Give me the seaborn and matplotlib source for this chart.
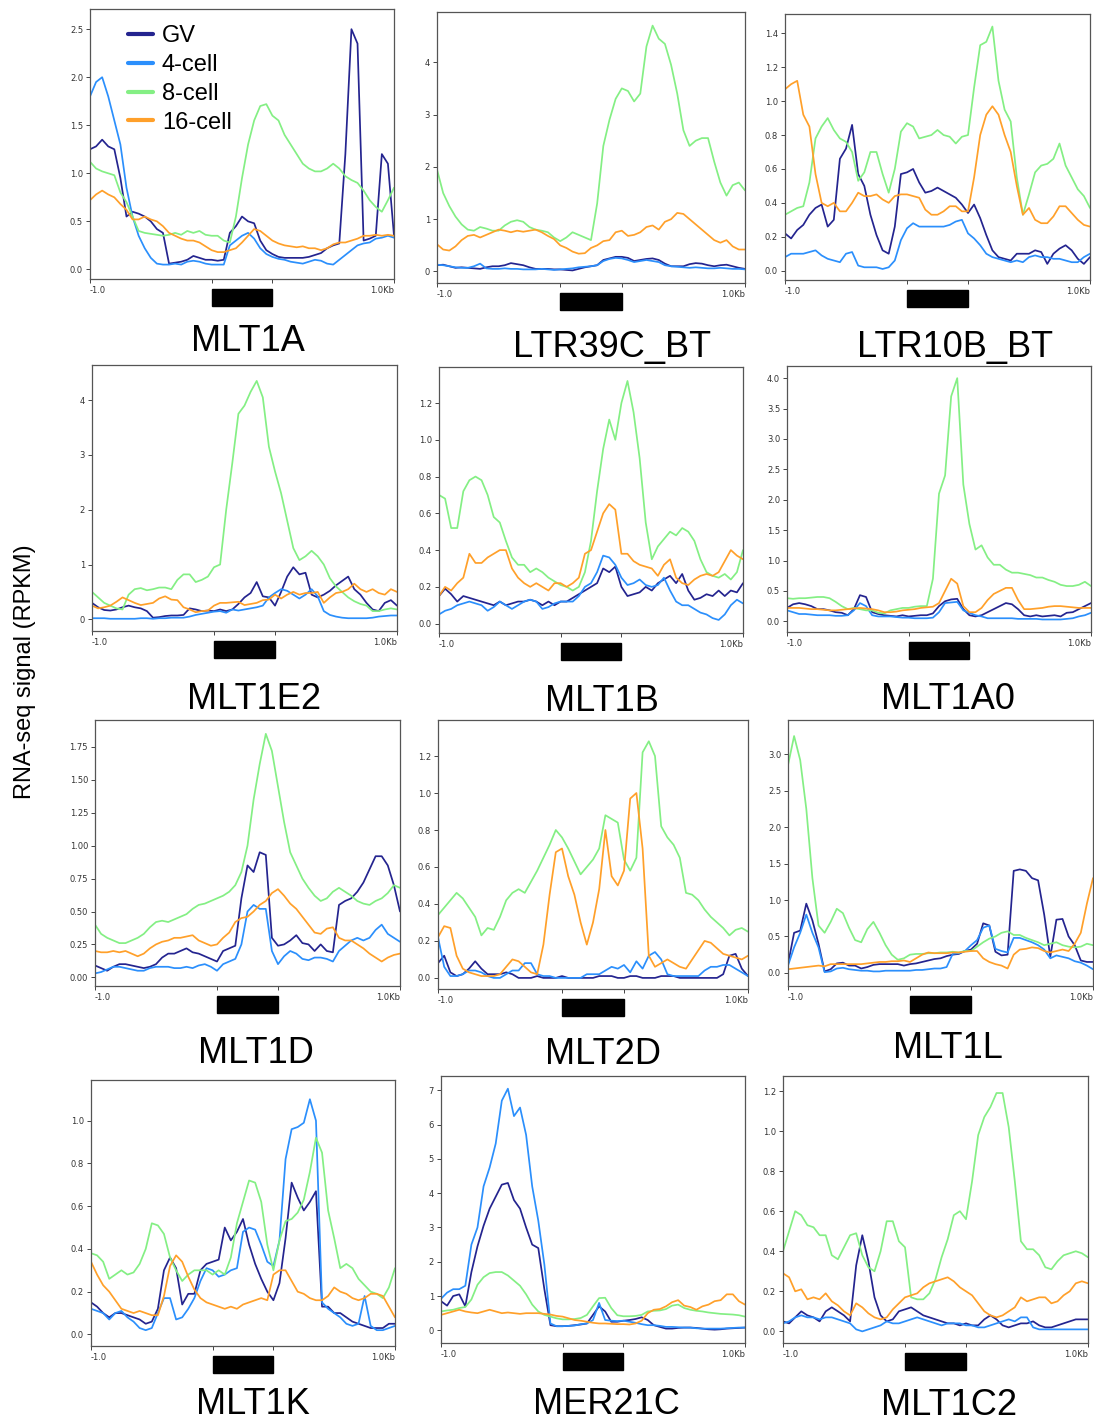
import numpy as np
import pandas as pd
import matplotlib
matplotlib.use("Agg")
import matplotlib.pyplot as plt
import matplotlib.transforms as mtransforms
from matplotlib.patches import Rectangle
from matplotlib.ticker import MultipleLocator
import seaborn as sns

# ---------------- data ----------------
STAGES = ["GV", "4-cell", "8-cell", "16-cell"]
REPEATS = ["MLT1A", "LTR39C_BT", "LTR10B_BT", "MLT1E2", "MLT1B", "MLT1A0",
           "MLT1D", "MLT2D", "MLT1L", "MLT1K", "MER21C", "MLT1C2"]
X_TICKS = [0, 40, 60, 100]          # -1 kb, region start, region end, +1 kb (scaled bins)
X_TICK_LABELS = ["-1.0", "", "", "1.0Kb"]
Y_LABEL = "RNA-seq signal (RPKM)"

MLT1A_GV = [1.25,1.28,1.35,1.28,1.25,0.95,0.55,0.60,0.58,0.55, 0.50,0.42,0.38,0.06,0.07,0.08,0.10,0.14,0.12,0.10,
            0.10,0.09,0.10,0.38,0.45,0.55,0.50,0.48,0.30,0.20, 0.16,0.13,0.12,0.12,0.12,0.12,0.13,0.15,0.17,0.22,
            0.25,0.27,1.20,2.50,2.35,0.30,0.32,0.35,1.20,1.10, 0.35]
MLT1A_4C = [1.80,1.95,2.00,1.80,1.55,1.30,0.85,0.55,0.35,0.22, 0.12,0.06,0.05,0.05,0.06,0.05,0.08,0.09,0.08,0.06,
            0.05,0.05,0.05,0.25,0.30,0.35,0.38,0.32,0.22,0.16, 0.13,0.11,0.10,0.08,0.07,0.06,0.08,0.10,0.09,0.06,
            0.05,0.10,0.15,0.20,0.25,0.27,0.28,0.32,0.33,0.35, 0.33]
MLT1A_8C = [1.12,1.05,1.02,1.00,0.98,0.80,0.70,0.55,0.40,0.38, 0.37,0.36,0.35,0.36,0.38,0.36,0.40,0.38,0.40,0.36,
            0.35,0.35,0.30,0.28,0.55,0.95,1.30,1.55,1.70,1.72, 1.60,1.55,1.40,1.30,1.20,1.10,1.05,1.02,1.02,1.05,
            1.10,1.05,0.97,0.93,0.90,0.82,0.72,0.65,0.60,0.72, 0.85]
MLT1A_16C = [0.72,0.78,0.82,0.78,0.75,0.68,0.62,0.52,0.52,0.55, 0.52,0.50,0.45,0.38,0.35,0.32,0.30,0.30,0.28,0.24,
             0.20,0.18,0.18,0.20,0.22,0.28,0.35,0.42,0.40,0.35, 0.30,0.27,0.25,0.24,0.23,0.24,0.22,0.22,0.20,0.22,
             0.26,0.28,0.28,0.30,0.32,0.35,0.35,0.36,0.35,0.36, 0.35]

LTR39C_GV = [0.12,0.13,0.10,0.07,0.08,0.07,0.06,0.05,0.08,0.10, 0.10,0.12,0.16,0.14,0.12,0.08,0.05,0.05,0.05,0.04,
             0.04,0.03,0.02,0.05,0.08,0.10,0.12,0.22,0.25,0.28, 0.28,0.26,0.20,0.22,0.24,0.25,0.22,0.15,0.10,0.10,
             0.10,0.14,0.16,0.15,0.12,0.10,0.12,0.13,0.10,0.07, 0.05]
LTR39C_4C = [0.13,0.12,0.10,0.08,0.07,0.07,0.10,0.15,0.06,0.05, 0.05,0.06,0.05,0.05,0.04,0.04,0.04,0.05,0.04,0.03,
             0.04,0.05,0.06,0.08,0.09,0.10,0.12,0.20,0.24,0.26, 0.25,0.22,0.18,0.20,0.22,0.20,0.18,0.12,0.10,0.09,
             0.08,0.07,0.08,0.07,0.06,0.06,0.07,0.06,0.05,0.05, 0.04]
LTR39C_8C = [1.95,1.50,1.25,1.05,0.90,0.80,0.78,0.85,0.82,0.78, 0.78,0.88,0.95,0.98,0.95,0.85,0.80,0.78,0.75,0.65,
             0.58,0.65,0.75,0.70,0.65,0.60,1.30,2.40,2.90,3.30, 3.50,3.45,3.25,3.40,4.30,4.70,4.45,4.35,3.95,3.40,
             2.70,2.40,2.50,2.55,2.55,2.10,1.70,1.45,1.65,1.70, 1.55]
LTR39C_16C = [0.52,0.42,0.40,0.48,0.60,0.68,0.70,0.65,0.70,0.75, 0.80,0.78,0.75,0.78,0.76,0.78,0.80,0.75,0.68,0.62,
              0.50,0.45,0.38,0.34,0.35,0.45,0.50,0.58,0.60,0.75, 0.78,0.68,0.70,0.75,0.85,0.88,0.80,0.95,1.00,1.12,
              1.10,1.00,0.90,0.80,0.70,0.60,0.55,0.60,0.48,0.42, 0.42]

LTR10B_GV = [0.22,0.19,0.24,0.27,0.33,0.37,0.39,0.26,0.30,0.66, 0.72,0.86,0.57,0.50,0.33,0.21,0.12,0.10,0.26,0.57,
             0.58,0.60,0.52,0.46,0.47,0.49,0.47,0.45,0.43,0.39, 0.34,0.39,0.31,0.21,0.12,0.08,0.07,0.06,0.10,0.10,
             0.10,0.12,0.11,0.04,0.10,0.13,0.15,0.12,0.07,0.04, 0.08]
LTR10B_4C = [0.08,0.10,0.10,0.10,0.11,0.12,0.09,0.07,0.06,0.05, 0.10,0.11,0.03,0.02,0.02,0.02,0.01,0.02,0.06,0.18,
             0.25,0.28,0.26,0.26,0.26,0.26,0.26,0.27,0.29,0.30, 0.22,0.19,0.15,0.10,0.08,0.07,0.06,0.05,0.06,0.05,
             0.08,0.09,0.08,0.08,0.07,0.07,0.06,0.05,0.05,0.08, 0.10]
LTR10B_8C = [0.33,0.35,0.37,0.38,0.52,0.78,0.85,0.90,0.83,0.78, 0.76,0.70,0.53,0.58,0.70,0.70,0.57,0.46,0.60,0.82,
             0.87,0.85,0.78,0.79,0.80,0.83,0.80,0.79,0.75,0.79, 0.80,1.08,1.33,1.35,1.44,1.12,0.95,0.88,0.55,0.33,
             0.45,0.58,0.62,0.63,0.66,0.75,0.62,0.55,0.48,0.44, 0.37]
LTR10B_16C = [1.07,1.10,1.12,0.92,0.85,0.57,0.40,0.38,0.40,0.35, 0.35,0.40,0.46,0.44,0.44,0.45,0.42,0.40,0.44,0.45,
              0.45,0.44,0.43,0.36,0.33,0.33,0.35,0.38,0.38,0.35, 0.35,0.55,0.80,0.92,0.97,0.92,0.80,0.70,0.50,0.33,
              0.37,0.30,0.28,0.28,0.32,0.38,0.38,0.34,0.30,0.27, 0.26]

MLT1E2_GV = [0.30,0.22,0.17,0.16,0.18,0.22,0.25,0.22,0.20,0.15, 0.03,0.04,0.06,0.07,0.07,0.08,0.20,0.18,0.15,0.16,
             0.15,0.18,0.15,0.18,0.28,0.40,0.48,0.68,0.42,0.40, 0.25,0.50,0.78,0.95,0.82,0.85,0.45,0.40,0.45,0.52,
             0.62,0.70,0.78,0.55,0.45,0.30,0.18,0.15,0.30,0.35, 0.25]
MLT1E2_4C = [0.02,0.02,0.02,0.01,0.01,0.01,0.01,0.01,0.02,0.02, 0.01,0.02,0.02,0.03,0.03,0.03,0.05,0.08,0.10,0.12,
             0.14,0.15,0.12,0.18,0.16,0.18,0.20,0.22,0.25,0.40, 0.48,0.55,0.52,0.45,0.38,0.45,0.55,0.42,0.15,0.08,
             0.05,0.03,0.02,0.02,0.02,0.02,0.03,0.05,0.06,0.07, 0.07]
MLT1E2_8C = [0.50,0.40,0.30,0.25,0.20,0.18,0.45,0.55,0.57,0.53, 0.55,0.58,0.58,0.55,0.72,0.82,0.82,0.68,0.72,0.78,
             0.95,1.00,2.00,2.85,3.75,3.90,4.15,4.35,4.05,3.15, 2.70,2.30,1.80,1.30,1.08,1.15,1.25,1.15,1.00,0.75,
             0.60,0.50,0.40,0.33,0.28,0.25,0.15,0.15,0.18,0.20, 0.18]
MLT1E2_16C = [0.25,0.20,0.22,0.25,0.32,0.40,0.35,0.30,0.26,0.28, 0.30,0.38,0.42,0.36,0.35,0.22,0.18,0.13,0.15,0.16,
              0.25,0.30,0.30,0.31,0.32,0.26,0.28,0.30,0.35,0.36, 0.45,0.38,0.45,0.50,0.45,0.48,0.48,0.50,0.30,0.40,
              0.48,0.50,0.55,0.65,0.55,0.50,0.55,0.48,0.45,0.55, 0.50]

MLT1B_GV = [0.15,0.19,0.16,0.12,0.15,0.14,0.13,0.12,0.11,0.10, 0.12,0.10,0.11,0.12,0.12,0.13,0.12,0.10,0.12,0.10,
            0.12,0.12,0.14,0.16,0.18,0.20,0.22,0.30,0.28,0.31, 0.20,0.15,0.16,0.17,0.20,0.18,0.22,0.24,0.26,0.22,
            0.27,0.18,0.13,0.14,0.16,0.15,0.18,0.15,0.18,0.17, 0.22]
MLT1B_4C = [0.05,0.07,0.08,0.10,0.11,0.12,0.11,0.10,0.07,0.09, 0.12,0.10,0.08,0.10,0.12,0.13,0.12,0.08,0.09,0.11,
            0.12,0.12,0.12,0.15,0.20,0.22,0.28,0.37,0.36,0.32, 0.25,0.21,0.22,0.24,0.21,0.20,0.21,0.25,0.18,0.12,
            0.10,0.10,0.08,0.06,0.05,0.03,0.02,0.05,0.10,0.13, 0.11]
MLT1B_8C = [0.70,0.68,0.52,0.52,0.72,0.78,0.80,0.78,0.70,0.58, 0.55,0.45,0.36,0.32,0.32,0.28,0.30,0.28,0.25,0.23,
            0.21,0.20,0.18,0.20,0.28,0.45,0.72,0.95,1.11,1.00, 1.20,1.32,1.15,0.90,0.55,0.35,0.42,0.46,0.50,0.48,
            0.52,0.50,0.45,0.35,0.28,0.26,0.25,0.27,0.24,0.28, 0.40]
MLT1B_16C = [0.15,0.20,0.18,0.22,0.25,0.38,0.33,0.33,0.36,0.38, 0.40,0.40,0.30,0.25,0.22,0.20,0.22,0.20,0.18,0.22,
             0.22,0.20,0.22,0.25,0.38,0.40,0.50,0.60,0.65,0.62, 0.38,0.38,0.34,0.32,0.31,0.30,0.26,0.32,0.35,0.25,
             0.22,0.21,0.24,0.26,0.27,0.26,0.28,0.34,0.40,0.37, 0.35]

MLT1A0_GV = [0.22,0.28,0.30,0.28,0.25,0.20,0.20,0.18,0.15,0.14, 0.10,0.20,0.43,0.40,0.15,0.12,0.10,0.09,0.08,0.10,
             0.08,0.09,0.10,0.10,0.13,0.25,0.33,0.36,0.37,0.20, 0.10,0.08,0.10,0.15,0.20,0.25,0.30,0.28,0.20,0.10,
             0.08,0.10,0.08,0.09,0.10,0.08,0.14,0.15,0.20,0.25, 0.30]
MLT1A0_4C = [0.18,0.15,0.12,0.12,0.11,0.10,0.10,0.10,0.09,0.09, 0.10,0.18,0.30,0.25,0.10,0.08,0.08,0.08,0.07,0.06,
             0.06,0.05,0.05,0.05,0.06,0.15,0.30,0.31,0.32,0.18, 0.14,0.10,0.08,0.05,0.05,0.05,0.05,0.05,0.04,0.04,
             0.04,0.04,0.03,0.03,0.03,0.03,0.04,0.05,0.08,0.10, 0.14]
MLT1A0_8C = [0.38,0.37,0.38,0.38,0.39,0.40,0.40,0.38,0.32,0.25, 0.20,0.22,0.20,0.18,0.18,0.14,0.13,0.18,0.20,0.22,
             0.22,0.24,0.25,0.25,0.70,2.10,2.40,3.70,4.00,2.25, 1.60,1.18,1.25,1.05,0.93,0.93,0.85,0.80,0.80,0.78,
             0.76,0.72,0.72,0.68,0.65,0.60,0.58,0.58,0.60,0.65, 0.58]
MLT1A0_16C = [0.22,0.22,0.22,0.21,0.20,0.20,0.19,0.18,0.18,0.19, 0.20,0.21,0.22,0.21,0.20,0.18,0.15,0.15,0.16,0.18,
              0.19,0.20,0.22,0.23,0.24,0.30,0.50,0.70,0.62,0.25, 0.15,0.15,0.22,0.35,0.45,0.50,0.55,0.55,0.35,0.20,
              0.20,0.21,0.22,0.24,0.25,0.25,0.24,0.23,0.22,0.22, 0.22]

MLT1D_GV = [0.09,0.07,0.05,0.08,0.10,0.10,0.09,0.08,0.07,0.08, 0.10,0.15,0.18,0.18,0.20,0.22,0.19,0.18,0.16,0.14,
            0.12,0.20,0.22,0.24,0.60,0.85,0.80,0.95,0.93,0.30, 0.24,0.25,0.28,0.32,0.26,0.25,0.20,0.25,0.20,0.19,
            0.55,0.58,0.60,0.65,0.72,0.82,0.92,0.92,0.85,0.70, 0.50]
MLT1D_4C = [0.03,0.04,0.06,0.08,0.08,0.07,0.06,0.05,0.05,0.07, 0.08,0.08,0.08,0.07,0.07,0.08,0.07,0.09,0.10,0.08,
            0.05,0.10,0.12,0.14,0.25,0.50,0.55,0.52,0.52,0.20, 0.10,0.16,0.20,0.18,0.14,0.13,0.15,0.15,0.14,0.12,
            0.20,0.24,0.28,0.30,0.28,0.30,0.36,0.40,0.33,0.30, 0.27]
MLT1D_8C = [0.40,0.33,0.30,0.28,0.26,0.26,0.28,0.30,0.33,0.38, 0.42,0.43,0.42,0.44,0.46,0.48,0.52,0.55,0.56,0.58,
            0.60,0.62,0.65,0.70,0.80,1.00,1.35,1.62,1.85,1.72, 1.45,1.18,0.95,0.85,0.75,0.68,0.62,0.58,0.60,0.65,
            0.68,0.65,0.62,0.58,0.56,0.55,0.58,0.60,0.64,0.70, 0.68]
MLT1D_16C = [0.20,0.19,0.19,0.20,0.19,0.20,0.18,0.16,0.18,0.22, 0.25,0.27,0.28,0.30,0.30,0.31,0.32,0.28,0.26,0.24,
             0.25,0.30,0.34,0.42,0.45,0.46,0.50,0.55,0.58,0.64, 0.67,0.62,0.56,0.52,0.46,0.40,0.34,0.33,0.37,0.38,
             0.30,0.28,0.28,0.25,0.22,0.18,0.15,0.12,0.15,0.17, 0.18]

MLT2D_GV = [0.08,0.12,0.03,0.01,0.02,0.05,0.09,0.05,0.02,0.02, 0.02,0.03,0.02,0.00,0.00,0.00,0.01,0.00,0.00,0.00,
            0.01,0.00,0.00,0.00,0.00,0.00,0.01,0.01,0.01,0.00, 0.00,0.01,0.01,0.00,0.00,0.00,0.01,0.01,0.01,0.00,
            0.00,0.00,0.00,0.00,0.00,0.00,0.02,0.12,0.13,0.05, 0.01]
MLT2D_4C = [0.22,0.06,0.01,0.01,0.02,0.04,0.04,0.03,0.01,0.00, 0.00,0.02,0.04,0.04,0.08,0.08,0.02,0.01,0.01,0.00,
            0.00,0.00,0.00,0.00,0.02,0.02,0.02,0.04,0.06,0.05, 0.07,0.03,0.09,0.05,0.12,0.14,0.10,0.02,0.01,0.01,
            0.01,0.01,0.01,0.04,0.06,0.06,0.07,0.07,0.05,0.03, 0.01]
MLT2D_8C = [0.34,0.38,0.42,0.46,0.43,0.38,0.33,0.23,0.27,0.26, 0.33,0.42,0.46,0.48,0.46,0.52,0.58,0.65,0.72,0.80,
            0.76,0.70,0.63,0.56,0.60,0.64,0.70,0.88,0.86,0.84, 0.64,0.58,0.65,1.22,1.28,1.20,0.82,0.76,0.72,0.65,
            0.46,0.45,0.42,0.37,0.33,0.30,0.27,0.23,0.26,0.27, 0.25]
MLT2D_16C = [0.22,0.28,0.27,0.12,0.05,0.03,0.02,0.01,0.01,0.01, 0.02,0.06,0.10,0.09,0.06,0.03,0.02,0.18,0.45,0.68,
             0.70,0.55,0.45,0.30,0.18,0.30,0.48,0.80,0.55,0.50, 0.58,0.97,1.00,0.70,0.12,0.06,0.08,0.10,0.08,0.06,
             0.05,0.10,0.15,0.20,0.19,0.16,0.13,0.12,0.11,0.10, 0.12]

MLT1L_GV = [0.12,0.55,0.58,0.95,0.72,0.40,0.02,0.05,0.13,0.14, 0.10,0.10,0.06,0.08,0.11,0.12,0.12,0.12,0.12,0.10,
            0.12,0.13,0.15,0.17,0.19,0.20,0.23,0.25,0.26,0.30, 0.32,0.40,0.68,0.65,0.29,0.24,0.25,1.40,1.42,1.40,
            1.30,1.27,0.80,0.22,0.73,0.74,0.50,0.38,0.17,0.15, 0.15]
MLT1L_4C = [0.10,0.35,0.55,0.80,0.55,0.35,0.01,0.02,0.06,0.07, 0.05,0.04,0.03,0.03,0.02,0.02,0.03,0.03,0.03,0.03,
            0.03,0.04,0.04,0.05,0.06,0.06,0.08,0.26,0.27,0.30, 0.38,0.45,0.62,0.65,0.33,0.30,0.28,0.48,0.48,0.45,
            0.42,0.38,0.32,0.20,0.24,0.22,0.20,0.16,0.14,0.10, 0.05]
MLT1L_8C = [2.85,3.25,2.92,2.25,1.30,0.65,0.55,0.70,0.88,0.82, 0.62,0.45,0.42,0.60,0.70,0.55,0.38,0.25,0.18,0.20,
            0.25,0.26,0.26,0.27,0.27,0.28,0.28,0.29,0.28,0.30, 0.30,0.36,0.42,0.47,0.50,0.55,0.57,0.52,0.52,0.48,
            0.45,0.42,0.38,0.40,0.42,0.38,0.36,0.35,0.36,0.40, 0.38]
MLT1L_16C = [0.05,0.06,0.07,0.08,0.09,0.10,0.09,0.12,0.12,0.12, 0.12,0.12,0.12,0.13,0.14,0.15,0.15,0.16,0.16,0.17,
             0.15,0.20,0.25,0.28,0.27,0.27,0.27,0.28,0.28,0.29, 0.30,0.30,0.20,0.15,0.12,0.10,0.06,0.25,0.32,0.33,
             0.35,0.34,0.30,0.28,0.30,0.32,0.30,0.40,0.55,0.95, 1.30]

MLT1K_GV = [0.15,0.13,0.10,0.08,0.10,0.10,0.09,0.08,0.07,0.05, 0.06,0.12,0.30,0.36,0.31,0.14,0.19,0.19,0.30,0.33,
            0.34,0.35,0.50,0.44,0.48,0.54,0.42,0.33,0.26,0.20, 0.16,0.24,0.45,0.71,0.64,0.58,0.62,0.67,0.13,0.13,
            0.10,0.10,0.08,0.06,0.05,0.04,0.03,0.03,0.03,0.05, 0.05]
MLT1K_4C = [0.12,0.11,0.10,0.07,0.10,0.11,0.08,0.06,0.03,0.02, 0.03,0.10,0.17,0.17,0.07,0.08,0.12,0.17,0.25,0.31,
            0.30,0.27,0.28,0.30,0.31,0.48,0.50,0.49,0.42,0.34, 0.32,0.44,0.82,0.96,0.97,0.99,1.10,1.00,0.15,0.12,
            0.10,0.08,0.05,0.04,0.05,0.18,0.04,0.02,0.02,0.03, 0.04]
MLT1K_8C = [0.38,0.37,0.34,0.26,0.28,0.30,0.28,0.29,0.33,0.40, 0.52,0.51,0.47,0.36,0.30,0.25,0.28,0.30,0.30,0.30,
            0.28,0.30,0.28,0.36,0.52,0.62,0.72,0.71,0.62,0.42, 0.30,0.44,0.53,0.54,0.57,0.63,0.76,0.92,0.85,0.58,
            0.45,0.31,0.33,0.31,0.26,0.23,0.20,0.19,0.17,0.22, 0.31]
MLT1K_16C = [0.34,0.28,0.23,0.20,0.16,0.12,0.11,0.10,0.11,0.10, 0.09,0.09,0.18,0.32,0.37,0.34,0.27,0.21,0.17,0.15,
             0.14,0.13,0.12,0.13,0.12,0.14,0.15,0.16,0.17,0.16, 0.28,0.30,0.30,0.25,0.20,0.19,0.17,0.16,0.16,0.18,
             0.22,0.20,0.19,0.17,0.16,0.17,0.19,0.19,0.18,0.13, 0.08]

MER21C_GV = [0.85,0.72,1.00,1.05,0.70,1.70,2.45,3.05,3.55,3.90, 4.25,4.30,3.80,3.55,3.00,2.50,2.40,1.20,0.15,0.12,
             0.12,0.13,0.15,0.17,0.20,0.45,0.70,0.55,0.25,0.25, 0.28,0.30,0.33,0.38,0.30,0.15,0.10,0.05,0.05,0.07,
             0.08,0.08,0.07,0.05,0.03,0.02,0.03,0.05,0.06,0.07, 0.08]
MER21C_4C = [0.92,1.10,1.20,1.20,1.30,2.50,3.00,4.20,4.75,5.45, 6.70,7.05,6.25,6.50,5.70,4.20,3.20,1.92,0.20,0.12,
             0.12,0.13,0.14,0.18,0.20,0.30,0.80,0.30,0.28,0.27, 0.28,0.25,0.22,0.18,0.15,0.15,0.13,0.10,0.10,0.09,
             0.08,0.08,0.06,0.05,0.05,0.05,0.05,0.06,0.07,0.08, 0.08]
MER21C_8C = [0.55,0.58,0.60,0.65,0.68,0.90,1.33,1.55,1.67,1.70, 1.70,1.60,1.45,1.30,1.05,0.75,0.55,0.45,0.40,0.35,
             0.32,0.32,0.33,0.36,0.45,0.70,0.94,0.95,0.65,0.44, 0.41,0.41,0.42,0.45,0.55,0.57,0.58,0.62,0.72,0.75,
             0.65,0.60,0.57,0.55,0.52,0.50,0.48,0.47,0.46,0.44, 0.40]
MER21C_16C = [0.45,0.50,0.55,0.60,0.55,0.52,0.50,0.55,0.60,0.55, 0.50,0.52,0.50,0.48,0.50,0.50,0.50,0.48,0.46,0.42,
              0.40,0.35,0.30,0.28,0.25,0.22,0.20,0.20,0.19,0.18, 0.18,0.17,0.20,0.28,0.50,0.60,0.62,0.70,0.82,0.88,
              0.72,0.68,0.60,0.70,0.75,0.85,0.88,1.05,1.05,0.85, 0.75]

MLT1C2_GV = [0.05,0.04,0.07,0.10,0.08,0.07,0.05,0.10,0.12,0.10, 0.08,0.05,0.33,0.48,0.35,0.17,0.08,0.05,0.06,0.10,
             0.11,0.12,0.10,0.08,0.07,0.06,0.05,0.04,0.04,0.03, 0.04,0.03,0.03,0.06,0.08,0.06,0.03,0.02,0.03,0.04,
             0.04,0.05,0.03,0.02,0.02,0.03,0.04,0.05,0.06,0.06, 0.06]
MLT1C2_4C = [0.04,0.05,0.07,0.08,0.07,0.07,0.06,0.07,0.07,0.06, 0.05,0.04,0.01,0.00,0.01,0.02,0.03,0.05,0.04,0.04,
             0.05,0.06,0.07,0.06,0.05,0.04,0.03,0.04,0.04,0.04, 0.03,0.03,0.02,0.02,0.03,0.04,0.05,0.06,0.05,0.07,
             0.07,0.02,0.01,0.01,0.01,0.01,0.01,0.01,0.01,0.01, 0.01]
MLT1C2_8C = [0.40,0.50,0.60,0.58,0.53,0.52,0.48,0.48,0.38,0.36, 0.42,0.48,0.49,0.38,0.32,0.30,0.40,0.55,0.55,0.45,
             0.42,0.17,0.16,0.16,0.19,0.26,0.37,0.46,0.58,0.60, 0.56,0.75,0.98,1.07,1.12,1.19,1.19,1.02,0.75,0.45,
             0.41,0.41,0.38,0.32,0.31,0.35,0.38,0.39,0.40,0.39, 0.37]
MLT1C2_16C = [0.29,0.27,0.20,0.21,0.16,0.17,0.16,0.19,0.15,0.13, 0.10,0.08,0.14,0.12,0.09,0.07,0.06,0.07,0.11,0.14,
              0.17,0.18,0.19,0.22,0.24,0.25,0.26,0.27,0.25,0.22, 0.20,0.18,0.14,0.10,0.08,0.07,0.08,0.10,0.12,0.17,
              0.15,0.16,0.17,0.17,0.14,0.15,0.18,0.20,0.24,0.25, 0.24]

SERIES = {
    "MLT1A": [MLT1A_GV, MLT1A_4C, MLT1A_8C, MLT1A_16C],
    "LTR39C_BT": [LTR39C_GV, LTR39C_4C, LTR39C_8C, LTR39C_16C],
    "LTR10B_BT": [LTR10B_GV, LTR10B_4C, LTR10B_8C, LTR10B_16C],
    "MLT1E2": [MLT1E2_GV, MLT1E2_4C, MLT1E2_8C, MLT1E2_16C],
    "MLT1B": [MLT1B_GV, MLT1B_4C, MLT1B_8C, MLT1B_16C],
    "MLT1A0": [MLT1A0_GV, MLT1A0_4C, MLT1A0_8C, MLT1A0_16C],
    "MLT1D": [MLT1D_GV, MLT1D_4C, MLT1D_8C, MLT1D_16C],
    "MLT2D": [MLT2D_GV, MLT2D_4C, MLT2D_8C, MLT2D_16C],
    "MLT1L": [MLT1L_GV, MLT1L_4C, MLT1L_8C, MLT1L_16C],
    "MLT1K": [MLT1K_GV, MLT1K_4C, MLT1K_8C, MLT1K_16C],
    "MER21C": [MER21C_GV, MER21C_4C, MER21C_8C, MER21C_16C],
    "MLT1C2": [MLT1C2_GV, MLT1C2_4C, MLT1C2_8C, MLT1C2_16C],
}

# y-axis ranges and tick steps per panel
Y_LIMITS = {
    "MLT1A": (-0.10, 2.71, 0.5), "LTR39C_BT": (-0.22, 4.96, 1), "LTR10B_BT": (-0.055, 1.514, 0.2),
    "MLT1E2": (-0.213, 4.64, 1), "MLT1B": (-0.051, 1.396, 0.2), "MLT1A0": (-0.176, 4.20, 0.5),
    "MLT1D": (-0.066, 1.955, 0.25), "MLT2D": (-0.060, 1.395, 0.2), "MLT1L": (-0.18, 3.47, 0.5),
    "MLT1K": (-0.054, 1.19, 0.2), "MER21C": (-0.37, 7.42, 1), "MLT1C2": (-0.058, 1.275, 0.2),
}

# ---------------- layout (pixels) ----------------
W, H = 1094, 1423
AX_BOX = {   # left, top, right, bottom
    "MLT1A": (90, 9, 394, 279), "LTR39C_BT": (437, 12, 745, 283), "LTR10B_BT": (785, 14, 1090, 280),
    "MLT1E2": (92, 365, 397, 631), "MLT1B": (439, 367, 743, 633), "MLT1A0": (787, 366, 1091, 632),
    "MLT1D": (95, 720, 400, 986), "MLT2D": (438, 720, 748, 989), "MLT1L": (788, 720, 1093, 986),
    "MLT1K": (91, 1080, 395, 1346), "MER21C": (441, 1076, 745, 1343), "MLT1C2": (783, 1076, 1088, 1343),
}
TITLE_POS = {  # centre x, baseline y
    "MLT1A": (248, 351), "LTR39C_BT": (612, 357), "LTR10B_BT": (955, 357),
    "MLT1E2": (254, 709), "MLT1B": (602, 711), "MLT1A0": (948, 709),
    "MLT1D": (256, 1063), "MLT2D": (603, 1064), "MLT1L": (948, 1058),
    "MLT1K": (253, 1414), "MER21C": (606, 1414), "MLT1C2": (949, 1415),
}
PALETTE = {"GV": "#24248f", "4-cell": "#2b8ffc", "8-cell": "#84ef84", "16-cell": "#ffa02a"}

sns.set_theme(style="white")
plt.rcParams["font.family"] = ["DejaVu Sans"]

fig = plt.figure(figsize=(W / 100, H / 100), dpi=100)
fig.patch.set_facecolor("white")

for i, name in enumerate(REPEATS):
    l, t, r, b = AX_BOX[name]
    ax = fig.add_axes([l / W, 1 - b / H, (r - l) / W, (b - t) / H])
    frames = []
    for stage, vals in zip(STAGES, SERIES[name]):
        frames.append(pd.DataFrame({"pos": np.linspace(0, 100, len(vals)),
                                    "signal": vals, "stage": stage}))
    df = pd.concat(frames, ignore_index=True)
    sns.lineplot(data=df, x="pos", y="signal", hue="stage", hue_order=STAGES,
                 palette=PALETTE, estimator=None, linewidth=1.25, ax=ax,
                 legend=(i == 0))
    ax.set_xlabel("")
    ax.set_ylabel("")
    ax.set_xlim(0, 100)
    y0, y1, step = Y_LIMITS[name]
    ax.set_ylim(y0, y1)
    ax.yaxis.set_major_locator(MultipleLocator(step))
    ax.set_xticks(X_TICKS)
    ax.set_xticklabels(X_TICK_LABELS)
    labs = ax.get_xticklabels()
    labs[0].set_ha("left")
    labs[-1].set_ha("right")
    ax.tick_params(axis="both", which="major", labelsize=6, length=3, width=0.7,
                   color="#444444", labelcolor="#333333", pad=2,
                   bottom=True, left=True)
    for sp in ax.spines.values():
        sp.set_color("#555555")
        sp.set_linewidth(0.9)
    # region body bar beneath the axis
    trans = mtransforms.blended_transform_factory(ax.transData, ax.transAxes)
    ax.add_patch(Rectangle((X_TICKS[1], -0.100), X_TICKS[2] - X_TICKS[1], 0.064,
                           transform=trans, color="black", clip_on=False))
    cx, cy = TITLE_POS[name]
    fig.text(cx / W, 1 - cy / H, name, ha="center", va="baseline", color="black",
             fontsize=26, family=["Liberation Sans", "DejaVu Sans"])
    if i == 0:
        handles, labels = ax.get_legend_handles_labels()
        leg = ax.legend(handles, labels, loc="upper left", bbox_to_anchor=(0.094, 0.975),
                        frameon=False, handlelength=1.05, handletextpad=0.38,
                        labelspacing=0.29, borderaxespad=0.0,
                        prop={"family": ["Liberation Sans", "DejaVu Sans"], "size": 17})
        for txt in leg.get_texts():
            txt.set_color("black")
        for ln in leg.get_lines():
            ln.set_linewidth(3)

fig.text(25 / W, 1 - 672 / H, Y_LABEL, rotation=90, ha="center", va="center",
         fontsize=17, color="black", family=["Liberation Sans", "DejaVu Sans"])

fig.savefig("out.png", dpi=100, facecolor="white")
